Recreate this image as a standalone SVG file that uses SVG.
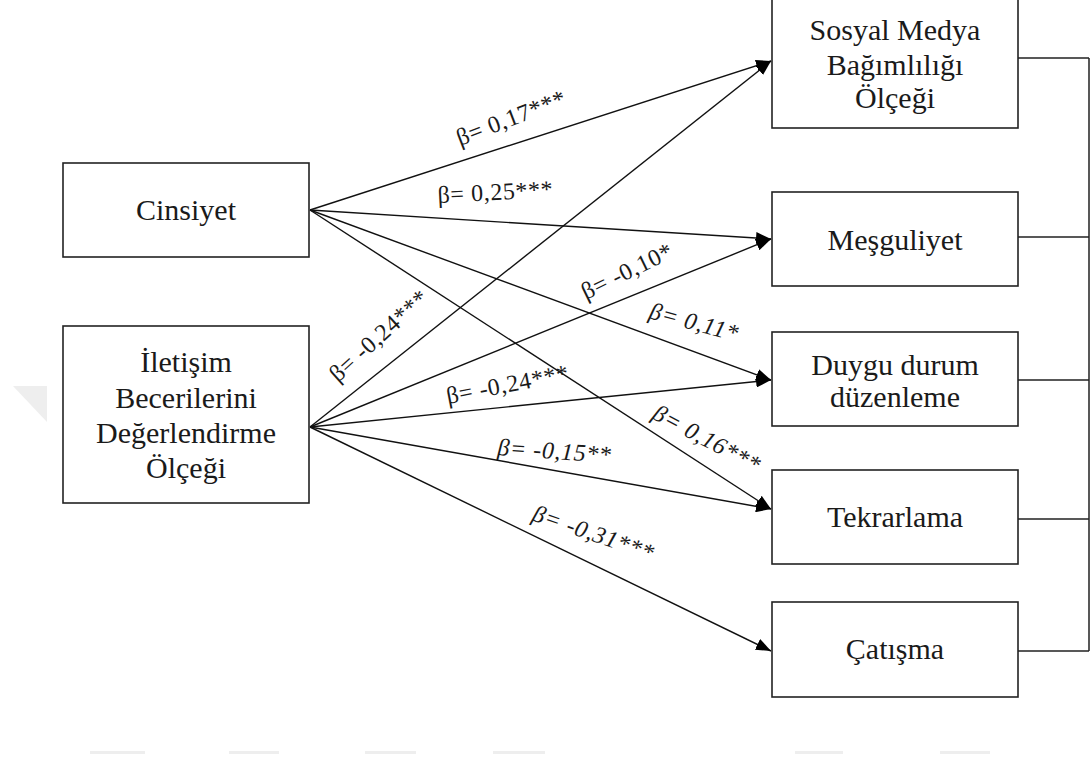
<svg xmlns="http://www.w3.org/2000/svg" width="1091" height="760" viewBox="0 0 1091 760">
<style>
.box{fill:#fff;stroke:#222;stroke-width:1.6}
.t{font-family:"Liberation Serif","Times New Roman",serif;font-size:30px;fill:#1a1a1a;text-anchor:middle}
.lbl{font-family:"Liberation Serif","Times New Roman",serif;font-size:24px;fill:#1a1a1a;letter-spacing:0.6px}
.it{font-style:italic}
.c{stroke:#111;stroke-width:1.4;fill:none}
.r{stroke:#222;stroke-width:1.5;fill:none}
.wm{fill:#eeeeee}
</style>
<defs>
<marker id="ah" markerUnits="userSpaceOnUse" markerWidth="16" markerHeight="12" refX="15" refY="6" orient="auto">
<path d="M0,0 L15,6 L0,12 z" fill="#000"/>
</marker>
</defs>
<rect width="1091" height="760" fill="#fff"/>
<g id="watermark">
<polygon class="wm" points="13,386 47,386 47,422"/>
<rect class="wm" x="90" y="751" width="55" height="3"/>
<rect class="wm" x="229" y="751" width="50" height="3"/>
<rect class="wm" x="365" y="751" width="51" height="3"/>
<rect class="wm" x="493" y="751" width="52" height="3"/>
<rect class="wm" x="795" y="751" width="48" height="3"/>
<rect class="wm" x="940" y="751" width="50" height="3"/>
</g>
<g id="connectors">
<line class="c" x1="310" y1="210" x2="771" y2="61" marker-end="url(#ah)"/>
<line class="c" x1="310" y1="210" x2="771" y2="239" marker-end="url(#ah)"/>
<line class="c" x1="310" y1="210" x2="771" y2="380" marker-end="url(#ah)"/>
<line class="c" x1="310" y1="210" x2="771" y2="509" marker-end="url(#ah)"/>
<line class="c" x1="310" y1="427" x2="771" y2="61" marker-end="url(#ah)"/>
<line class="c" x1="310" y1="427" x2="771" y2="239" marker-end="url(#ah)"/>
<line class="c" x1="310" y1="427" x2="771" y2="380" marker-end="url(#ah)"/>
<line class="c" x1="310" y1="427" x2="771" y2="509" marker-end="url(#ah)"/>
<line class="c" x1="310" y1="427" x2="771" y2="651" marker-end="url(#ah)"/>
<path class="r" d="M1018,58 H1089 M1018,237 H1089 M1018,380 H1089 M1018,519 H1089 M1018,651 H1089 M1089,58 V651"/>
</g>
<g id="labels">
<text class="lbl" transform="translate(460,146) rotate(-21)">β= 0,17***</text>
<text class="lbl" transform="translate(438,203) rotate(-3)">β= 0,25***</text>
<text class="lbl" transform="translate(586,300) rotate(-26)">β= -0,10*</text>
<text class="lbl it" transform="translate(648,318) rotate(15)">β= 0,11*</text>
<text class="lbl" transform="translate(338,383) rotate(-42)">β= -0,24***</text>
<text class="lbl" transform="translate(448,404) rotate(-11)">β= -0,24***</text>
<text class="lbl it" transform="translate(651,418) rotate(28)">β= 0,16***</text>
<text class="lbl it" transform="translate(497,455) rotate(4)">β= -0,15**</text>
<text class="lbl it" transform="translate(531,520) rotate(19)">β= -0,31***</text>
</g>
<g id="cinsiyet">
<rect class="box" x="63" y="163" width="246" height="94"/>
<text class="t" x="186" y="220">Cinsiyet</text>
</g>
<g id="iletisim">
<rect class="box" x="63" y="326" width="246" height="177"/>
<text class="t" x="186" y="372">İletişim</text>
<text class="t" x="186" y="408">Becerilerini</text>
<text class="t" x="186" y="443">Değerlendirme</text>
<text class="t" x="186" y="478">Ölçeği</text>
</g>
<g id="sosyal">
<rect class="box" x="772" y="-3" width="246" height="131"/>
<text class="t" x="895" y="40">Sosyal Medya</text>
<text class="t" x="895" y="75">Bağımlılığı</text>
<text class="t" x="895" y="108">Ölçeği</text>
</g>
<g id="mesguliyet">
<rect class="box" x="772" y="192" width="246" height="94"/>
<text class="t" x="895" y="250">Meşguliyet</text>
</g>
<g id="duygu">
<rect class="box" x="772" y="332" width="246" height="94"/>
<text class="t" x="895" y="375">Duygu durum</text>
<text class="t" x="895" y="407">düzenleme</text>
</g>
<g id="tekrarlama">
<rect class="box" x="772" y="470" width="246" height="94"/>
<text class="t" x="895" y="527">Tekrarlama</text>
</g>
<g id="catisma">
<rect class="box" x="772" y="602" width="246" height="95"/>
<text class="t" x="895" y="659">Çatışma</text>
</g>
</svg>
